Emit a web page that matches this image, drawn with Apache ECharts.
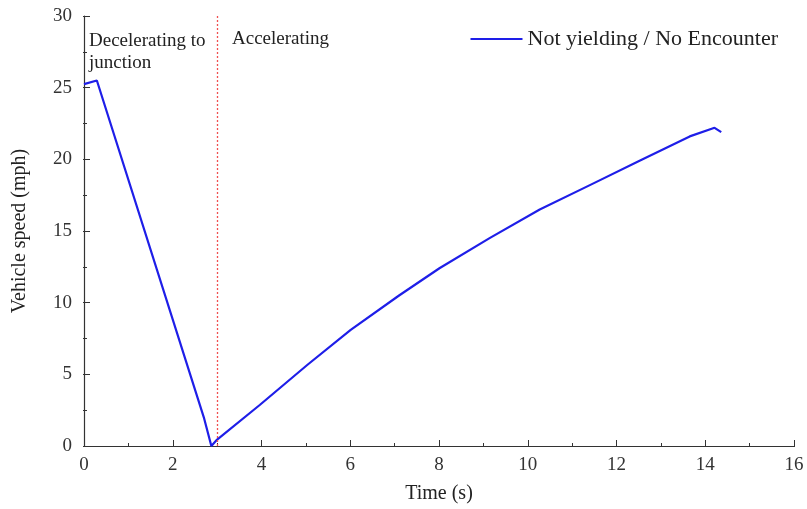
<!DOCTYPE html>
<html>
<head>
<meta charset="utf-8">
<script src="https://cdn.jsdelivr.net/npm/echarts@6/dist/echarts.min.js"></script>
<style>
  html, body { margin: 0; padding: 0; background: #fff; }
  #chart { width: 807px; height: 509px; }
</style>
</head>
<body>
<div id="chart"></div>
<script>
// values
var timeS = [0, 0.29, 2.7, 2.87, 3.0, 3.96, 5.03, 6.01, 7.1, 8.01, 9.14, 10.27, 11.4, 12.52, 13.65, 14.21, 14.36];
var speedMph = [25.25, 25.5, 2.0, 0, 0.45, 2.86, 5.65, 8.1, 10.5, 12.4, 14.5, 16.5, 18.2, 19.9, 21.6, 22.2, 21.9];
var phaseSplit = 3.0;
var seriesName = 'Not yielding / No Encounter';

var serif = '"Liberation Serif", "DejaVu Serif", serif';
var axisColor = '#333';

// thin helper grids sit on the plot's edges so their outward ticks point into the plot
var tickAxisBase = {
    type: 'value',
    axisLine: {show: false},
    axisLabel: {show: false},
    splitLine: {show: false},
    axisTick: {show: true, length: 7, lineStyle: {color: axisColor}},
    minorTick: {show: true, splitNumber: 2, length: 4, lineStyle: {color: axisColor}}
};

var myChart = echarts.init(document.getElementById('chart'));
myChart.setOption({
    backgroundColor: '#fff',
    animation: false,
    grid: [
        {left: 84, right: 13, top: 16, bottom: 63},
        {left: 84, right: 13, top: 446, height: 1},
        {left: 83, width: 1, top: 16, bottom: 63}
    ],
    legend: {
        right: 24,
        top: 23,
        itemWidth: 52,
        itemHeight: 10,
        itemGap: 6,
        textStyle: {fontFamily: serif, fontSize: 22, color: '#222'},
        data: [{name: seriesName, icon: 'path://M0,4 L52,4 L52,6 L0,6 Z'}]
    },
    xAxis: [
        {
            type: 'value',
            gridIndex: 0,
            min: 0,
            max: 16,
            interval: 2,
            name: 'Time (s)',
            nameLocation: 'middle',
            nameGap: 38,
            nameTextStyle: {fontFamily: serif, fontSize: 20, color: '#222'},
            axisLine: {lineStyle: {color: axisColor, width: 1.2}},
            axisTick: {show: false},
            axisLabel: {fontFamily: serif, fontSize: 19, color: '#333', margin: 10},
            splitLine: {show: false}
        },
        Object.assign({}, tickAxisBase, {gridIndex: 1, position: 'top', min: 0, max: 16, interval: 2}),
        Object.assign({}, tickAxisBase, {gridIndex: 2, min: 0, max: 1, show: false})
    ],
    yAxis: [
        {
            type: 'value',
            gridIndex: 0,
            min: 0,
            max: 30,
            interval: 5,
            name: 'Vehicle speed (mph)',
            nameLocation: 'middle',
            nameGap: 54,
            nameTextStyle: {fontFamily: serif, fontSize: 20, color: '#222'},
            axisLine: {show: true, lineStyle: {color: axisColor, width: 1.2}},
            axisTick: {show: false},
            axisLabel: {fontFamily: serif, fontSize: 19, color: '#333', margin: 12},
            splitLine: {show: false}
        },
        Object.assign({}, tickAxisBase, {gridIndex: 1, min: 0, max: 1, show: false}),
        Object.assign({}, tickAxisBase, {gridIndex: 2, position: 'right', min: 0, max: 30, interval: 5})
    ],
    graphic: [
        {
            type: 'text', left: 89, top: 30,
            style: {text: 'Decelerating to\njunction', font: '19px ' + serif, fill: '#222', lineHeight: 22}
        },
        {
            type: 'text', left: 232, top: 30,
            style: {text: 'Accelerating', font: '19px ' + serif, fill: '#222'}
        }
    ],
    series: [
        {
            name: seriesName,
            type: 'line',
            xAxisIndex: 0,
            yAxisIndex: 0,
            data: timeS.map(function (t, i) { return [t, speedMph[i]]; }),
            showSymbol: false,
            color: '#1e1ee8',
            lineStyle: {width: 2.2, color: '#1e1ee8'},
            markLine: {
                silent: true,
                symbol: 'none',
                label: {show: false},
                lineStyle: {type: [2, 2], color: '#f05050', width: 1.3},
                data: [{xAxis: phaseSplit}]
            }
        }
    ]
});
</script>
</body>
</html>
